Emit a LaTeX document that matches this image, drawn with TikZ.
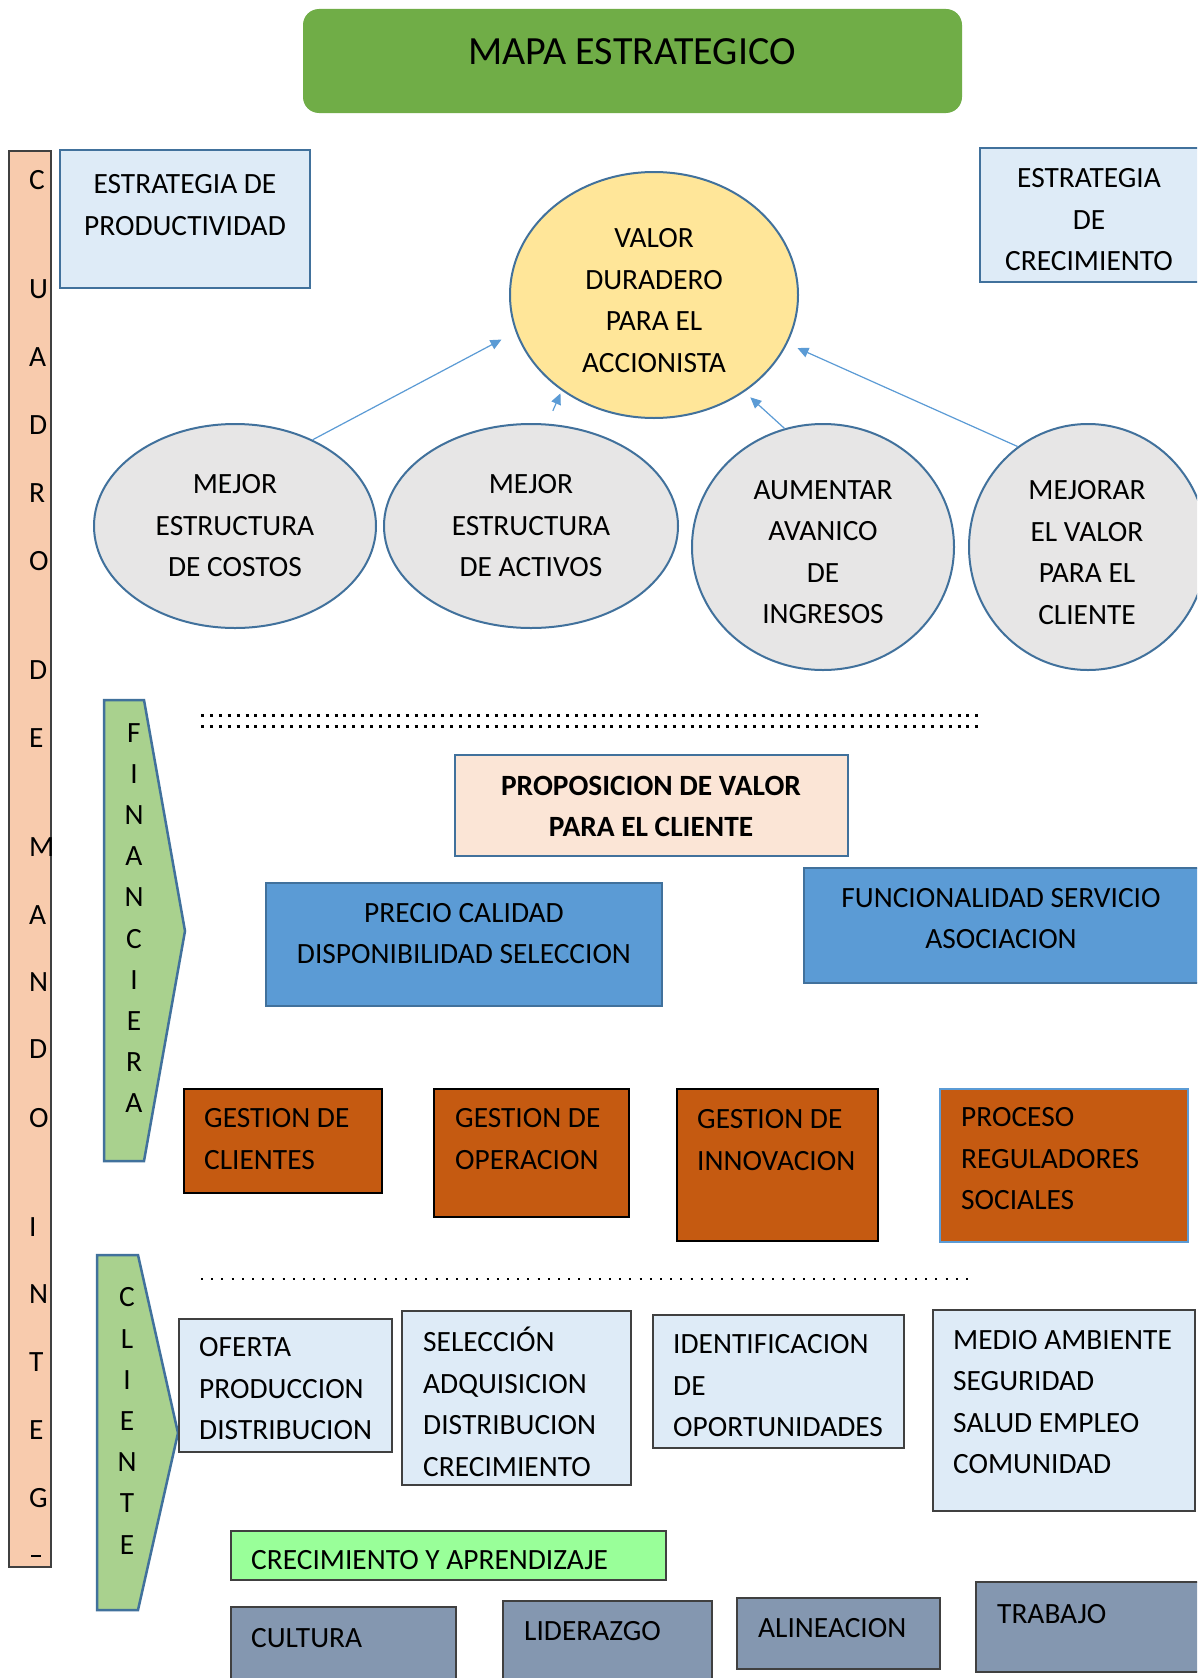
\documentclass[tikz,border=0pt]{standalone}
\usepackage{fontspec}
\setmainfont{Carlito}
\usepackage{tikz}
\usetikzlibrary{shapes.geometric,arrows.meta,positioning,calc}

\definecolor{mapgreen}{HTML}{70AD47}
\definecolor{cmborder}{HTML}{404040}
\definecolor{cmfill}{HTML}{F8CBAD}
\definecolor{paleblue}{HTML}{DEEBF7}
\definecolor{edgeblue}{HTML}{41719C}
\definecolor{valyellow}{HTML}{FFE699}
\definecolor{ovalgray}{HTML}{E7E6E6}
\definecolor{arrowblue}{HTML}{5B9BD5}
\definecolor{perspgreen}{HTML}{A9D18E}
\definecolor{propfill}{HTML}{FBE5D6}
\definecolor{midblue}{HTML}{5B9BD5}
\definecolor{procorange}{HTML}{C55A11}
\definecolor{learngreen}{HTML}{99FF99}
\definecolor{slateblue}{HTML}{8497B0}

\newcommand{\sline}{\rule[-0.37em]{0pt}{1.37em}}

\begin{document}
\begin{tikzpicture}[x=1pt, y=-1pt,
    every node/.style={inner sep=0pt, font=\fontsize{29.4}{41.5}\selectfont},
    txt/.style={execute at begin node=\sline, execute at end node=\sline},
    lbl/.style={txt, anchor=west, align=left},
    mlbl/.style={lbl, yshift=-6.2pt},
    clbl/.style={txt, align=center},
    mclbl/.style={clbl, yshift=-6.2pt},
    vlbl/.style={clbl, yshift=-8.4pt, font=\fontsize{29.4}{41.2}\selectfont},
    stratbox/.style={rectangle, draw=edgeblue, line width=2.5pt, fill=paleblue},
    oval/.style={ellipse, draw=edgeblue, line width=2pt},
    arr/.style={-{Triangle[length=11pt,width=10pt]}, draw=arrowblue, line width=1.2pt},
    persp/.style={draw=edgeblue, line width=2.5pt, fill=perspgreen},
    valbox/.style={rectangle, draw=edgeblue, line width=2.5pt, fill=midblue},
    procbox/.style={rectangle, draw=black, line width=1.5pt, fill=procorange},
    custbox/.style={rectangle, draw=cmborder, line width=1.5pt, fill=paleblue},
    learnbox/.style={rectangle, draw=cmborder, line width=1.5pt, fill=slateblue},
    sepA/.style={line width=3pt, dash pattern=on 3pt off 5.9pt},
    sepB/.style={line width=2pt, dash pattern=on 2pt off 8.2pt}]

    \useasboundingbox (0,0) rectangle (1197,1678);
    \fill[white] (0,0) rectangle (1197,1678);
    \clip (0,0) rectangle (1197,1678);

    % Title
    \node[rectangle, rounded corners=16pt, fill=mapgreen, minimum width=659pt, minimum height=104pt] (MAPA) at (632.5,61) {};
    \node[txt, font=\fontsize{40}{48}\selectfont] (MAPAt) at (632,52) {MAPA ESTRATEGICO};

    % Cuadro de mando
    \node[rectangle, draw=cmborder, line width=1.5pt, fill=cmfill, minimum width=42pt, minimum height=1416pt] (CM) at (30,859) {};
    \foreach \l/\y [count=\i] in {C/180, U/289, A/357, D/425, R/493, O/561, D/670, E/738, M/847, A/915,
                                 N/982, D/1049, O/1118, I/1227, N/1294, T/1362, E/1430, G/1498}
        \node[txt, anchor=west] (cm\i) at (29,\y) {\l};
    \draw[line width=1.2pt] (31,1556) -- (41,1556);

    % Estrategias
    \node[stratbox, minimum width=250pt, minimum height=138pt] (PROD) at (185,219) {};
    \node[mclbl] (PRODt) at (185,204) {ESTRATEGIA DE\\PRODUCTIVIDAD};
    \node[stratbox, minimum width=225pt, minimum height=134pt] (CREC) at (1092.5,215) {};
    \node[mclbl] (CRECt) at (1089,219) {ESTRATEGIA\\DE\\CRECIMIENTO};

    % Valor para el accionista
    \node[oval, fill=valyellow, minimum width=288pt, minimum height=246pt] (VALOR) at (654,295) {};
    \node[mclbl] (VALORt) at (654,299.5) {VALOR\\DURADERO\\PARA EL\\ACCIONISTA};
    \node[oval, fill=ovalgray, minimum width=282pt, minimum height=204pt] (COST) at (235,526) {};
    \node[mclbl] (COSTt) at (235,525) {MEJOR\\ESTRUCTURA\\DE COSTOS};
    \node[oval, fill=ovalgray, minimum width=294pt, minimum height=204pt] (ACT) at (531,526) {};
    \node[mclbl] (ACTt) at (531,525) {MEJOR\\ESTRUCTURA\\DE ACTIVOS};
    \node[oval, fill=ovalgray, minimum width=262pt, minimum height=246pt] (ING) at (823,547) {};
    \node[mclbl] (INGt) at (823,551.5) {AUMENTAR\\AVANICO\\DE\\INGRESOS};
    \node[oval, fill=ovalgray, minimum width=238pt, minimum height=246pt] (CLI) at (1088,547) {};
    \node[mclbl] (CLIt) at (1087,551.5) {MEJORAR\\EL VALOR\\PARA EL\\CLIENTE};

    \draw[arr, shorten >=16pt] (COST.48) -- (VALOR.195);
    \draw[arr, shorten <=14pt, shorten >=3pt] (ACT.81) -- (VALOR.226);
    \draw[arr, shorten >=8pt] (ING.108) -- (VALOR.313);
    \draw[arr, shorten >=11pt] (CLI.125) -- (VALOR.340);

    % Separador financiera
    \draw[sepA] (201,715) -- (978,715);
    \draw[sepA] (201,726) -- (978,726);

    % Financiera
    \draw[persp] (104,700) -- (144,700) -- (185,931) -- (144,1161) -- (104,1161) -- cycle;
    \node[vlbl] (FIN) at (134,915) {F\\I\\N\\A\\N\\C\\I\\E\\R\\A};

    % Propuesta de valor
    \node[rectangle, draw=edgeblue, line width=2.5pt, fill=propfill, minimum width=393pt, minimum height=101pt] (PROP) at (651.5,805.5) {};
    \node[mclbl, font=\fontsize{29.4}{41.5}\selectfont\bfseries] (PROPt) at (651,805.5) {PROPOSICION DE VALOR\\PARA EL CLIENTE};
    \node[valbox, minimum width=396pt, minimum height=123pt] (PREC) at (464,944.5) {};
    \node[mclbl] (PRECt) at (464,932.5) {PRECIO CALIDAD\\DISPONIBILIDAD SELECCION};
    \node[valbox, minimum width=401pt, minimum height=115pt] (FUNC) at (1004.5,925.5) {};
    \node[mclbl] (FUNCt) at (1001,917.5) {FUNCIONALIDAD SERVICIO\\ASOCIACION};

    % Procesos
    \node[procbox, minimum width=198pt, minimum height=104pt] (GC) at (283,1141) {};
    \node[mlbl] (GCt) at (204,1138) {GESTION DE\\CLIENTES};
    \node[procbox, minimum width=195pt, minimum height=128pt] (GO) at (531.5,1153) {};
    \node[mlbl] (GOt) at (455,1138) {GESTION DE\\OPERACION};
    \node[procbox, minimum width=201pt, minimum height=152pt] (GI) at (777.5,1165) {};
    \node[mlbl] (GIt) at (697,1139) {GESTION DE\\INNOVACION};
    \node[procbox, draw=arrowblue, minimum width=248pt, minimum height=153pt] (PRS) at (1064,1165.5) {};
    \node[mlbl] (PRSt) at (961,1158) {PROCESO\\REGULADORES\\SOCIALES};

    % Separador cliente
    \draw[sepB] (201,1279) -- (973,1279);

    % Cliente
    \draw[persp] (97,1255) -- (138,1255) -- (178,1433) -- (138,1610) -- (97,1610) -- cycle;
    \node[vlbl] (CLIE) at (127,1418) {C\\L\\I\\E\\N\\T\\E};

    \node[custbox, minimum width=213pt, minimum height=133pt] (OFE) at (285.5,1385.5) {};
    \node[mlbl] (OFEt) at (199,1388) {OFERTA\\PRODUCCION\\DISTRIBUCION};
    \node[custbox, minimum width=229pt, minimum height=174pt] (SEL) at (516.5,1398) {};
    \node[mlbl] (SELt) at (423,1401) {SELECCIÓN\\ADQUISICION\\DISTRIBUCION\\CRECIMIENTO};
    \node[custbox, minimum width=251pt, minimum height=133pt] (IDE) at (778.5,1381.5) {};
    \node[mlbl] (IDEt) at (673,1385) {IDENTIFICACION\\DE\\OPORTUNIDADES};
    \node[custbox, minimum width=262pt, minimum height=201pt] (MED) at (1064,1410.5) {};
    \node[mlbl] (MEDt) at (953,1401) {MEDIO AMBIENTE\\SEGURIDAD\\SALUD EMPLEO\\COMUNIDAD};

    % Crecimiento y aprendizaje
    \node[rectangle, draw=cmborder, line width=1.5pt, fill=learngreen, minimum width=435pt, minimum height=49pt] (CYA) at (448.5,1555.5) {};
    \node[lbl] (CYAt) at (251,1560) {CRECIMIENTO Y APRENDIZAJE};
    \node[learnbox, minimum width=225pt, minimum height=83pt] (CUL) at (343.5,1648.5) {};
    \node[lbl] (CULt) at (251,1638) {CULTURA};
    \node[learnbox, minimum width=209pt, minimum height=89pt] (LID) at (607.5,1645.5) {};
    \node[lbl] (LIDt) at (524,1631) {LIDERAZGO};
    \node[learnbox, minimum width=203pt, minimum height=71pt] (ALI) at (838.5,1633.5) {};
    \node[lbl] (ALIt) at (758,1628) {ALINEACION};
    \node[learnbox, minimum width=229pt, minimum height=90pt] (TRA) at (1090.5,1627) {};
    \node[lbl] (TRAt) at (997,1614) {TRABAJO};
\end{tikzpicture}
\end{document}
